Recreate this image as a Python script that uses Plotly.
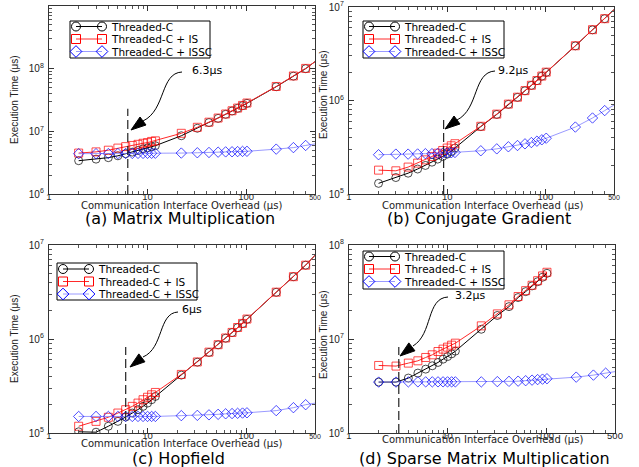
import numpy as np
import plotly.graph_objects as go

# ---------------- data ----------------
X = [2, 3, 4, 5, 6, 7, 8, 9, 10, 11, 12, 22, 32, 42, 52, 62, 72, 82, 92, 102, 202, 302, 402, 502]
X_D = [2, 3, 4, 5, 6, 7, 8, 9, 10, 11, 12, 22, 32, 42, 52, 62, 72, 82, 92, 102]

a_black = [3.4e6, 3.6e6, 3.8e6, 4.07e6, 4.4e6, 4.66e6, 4.95e6, 5.25e6, 5.45e6, 5.7e6, 5.9e6,
           8.5e6, 11.2e6, 13.8e6, 16.1e6, 18.7e6, 21.1e6, 23.3e6, 25.7e6, 28e6, 51.5e6, 76e6, 100e6, 130e6]
a_red = [4.5e6, 4.7e6, 5.0e6, 5.4e6, 5.7e6, 5.95e6, 6.2e6, 6.45e6, 6.6e6, 6.9e6, 7.05e6,
         9.3e6, 11.6e6, 14.0e6, 16.3e6, 18.9e6, 21.3e6, 23.5e6, 25.9e6, 28.3e6, 52e6, 76.5e6, 101e6, 130e6]
a_blue = [4.4e6, 4.4e6, 4.42e6, 4.42e6, 4.43e6, 4.44e6, 4.45e6, 4.45e6, 4.46e6, 4.46e6, 4.47e6,
          4.5e6, 4.55e6, 4.6e6, 4.65e6, 4.7e6, 4.72e6, 4.75e6, 4.78e6, 4.8e6, 5.2e6, 5.5e6, 5.95e6, 6.3e6]

b_black = [1.3e5, 1.5e5, 1.67e5, 1.85e5, 2.02e5, 2.19e5, 2.36e5, 2.52e5, 2.67e5, 2.85e5, 3.1e5,
           5.26e5, 7.1e5, 9.1e5, 1.08e6, 1.27e6, 1.45e6, 1.63e6, 1.82e6, 2.0e6, 3.84e6, 5.7e6, 7.5e6, 9.4e6]
b_red = [1.8e5, 1.77e5, 1.94e5, 2.14e5, 2.32e5, 2.52e5, 2.73e5, 2.92e5, 3.1e5, 3.28e5, 3.45e5,
         5.3e5, 7.15e5, 9.15e5, 1.085e6, 1.275e6, 1.455e6, 1.635e6, 1.825e6, 2.01e6, 3.85e6, 5.72e6, 7.5e6, 9.4e6]
b_blue = [2.63e5, 2.67e5, 2.67e5, 2.68e5, 2.7e5, 2.7e5, 2.72e5, 2.73e5, 2.75e5, 2.76e5, 2.78e5,
          2.9e5, 3.04e5, 3.2e5, 3.3e5, 3.44e5, 3.55e5, 3.67e5, 3.8e5, 3.95e5, 5.2e5, 6.5e5, 7.8e5, 8.96e5]

c_black = [1.03e5, 1.02e5, 1.18e5, 1.33e5, 1.48e5, 1.63e5, 1.77e5, 1.92e5, 2.08e5, 2.26e5, 2.45e5,
           4.13e5, 5.67e5, 7.2e5, 8.67e5, 1.02e6, 1.17e6, 1.32e6, 1.46e6, 1.62e6, 3.14e6, 4.6e6, 6.1e6, 7.8e6]
c_red = [1.18e5, 1.33e5, 1.47e5, 1.63e5, 1.77e5, 1.92e5, 2.08e5, 2.26e5, 2.4e5, 2.55e5, 2.7e5,
         4.2e5, 5.7e5, 7.25e5, 8.7e5, 1.025e6, 1.175e6, 1.325e6, 1.465e6, 1.63e6, 3.15e6, 4.6e6, 6.1e6, 7.8e6]
c_blue = [1.5e5, 1.5e5, 1.5e5, 1.5e5, 1.5e5, 1.5e5, 1.5e5, 1.5e5, 1.5e5, 1.5e5, 1.5e5,
          1.53e5, 1.54e5, 1.56e5, 1.58e5, 1.6e5, 1.61e5, 1.62e5, 1.63e5, 1.64e5, 1.73e5, 1.86e5, 2.0e5, 2.08e5]

d_black = [3.48e6, 3.48e6, 3.84e6, 4.34e6, 4.78e6, 5.19e6, 5.63e6, 6.1e6, 6.5e6, 6.95e6, 7.43e6,
           1.27e7, 1.78e7, 2.21e7, 2.76e7, 3.19e7, 3.67e7, 4.07e7, 4.54e7, 5.0e7]
d_red = [5.23e6, 5.15e6, 5.54e6, 5.86e6, 6.36e6, 6.79e6, 7.36e6, 7.8e6, 8.19e6, 8.6e6, 9.03e6,
         1.38e7, 1.85e7, 2.31e7, 2.83e7, 3.27e7, 3.73e7, 4.17e7, 4.69e7, 5.13e7]
d_blue = [3.48e6, 3.48e6, 3.5e6, 3.5e6, 3.5e6, 3.5e6, 3.5e6, 3.5e6, 3.5e6, 3.5e6, 3.5e6,
          3.5e6, 3.52e6, 3.54e6, 3.56e6, 3.6e6, 3.65e6, 3.7e6, 3.74e6, 3.78e6, 3.93e6, 4.13e6, 4.33e6, 4.5e6]

SERIES_NAMES = ["Threaded-C", "Threaded-C + IS", "Threaded-C + ISSC"]
CAPTIONS = ["(a) Matrix Multiplication", "(b) Conjugate Gradient",
            "(c) Hopfield", "(d) Sparse Matrix Multiplication"]
Y_DECADES = [(6, 9), (5, 7), (5, 7), (6, 8)]
MARK_X = [6.3, 9.2, 6.0, 3.2]
MARK_LABELS = ["6.3\u03bcs", "9.2\u03bcs", "6\u03bcs", "3.2\u03bcs"]
MARK_TOP = [2.3e7, 6.7e5, 8.2e5, 8.2e6]
X_TICKS = [1, 10, 100, 500]
X_TITLE = "Communication Interface Overhead (\u03bcs)"
Y_TITLE = "Execution Time (\u03bcs)"

panels = [
    (X, a_black, X, a_red, X, a_blue),
    (X, b_black, X, b_red, X, b_blue),
    (X, c_black, X, c_red, X, c_blue),
    (X_D, d_black, X_D, d_red, X, d_blue),
]

# ---------------- layout geometry (pixels) ----------------
W, H = 639, 467
PANEL_PX = [(49, 315, 6, 194), (349, 614, 7, 194), (49, 315, 245, 433), (349, 615, 245, 433)]
OV = dict(xref="x5", yref="y5")  # overlay pixel coordinate system

fig = go.Figure()

styles = [
    dict(color="black", symbol="circle-open", lc="black", lw=1.0, size=8),
    dict(color="#ff0000", symbol="square-open", lc="#ff2a2a", lw=1.0, size=8),
    dict(color="#0000ff", symbol="diamond-open", lc="#8080ff", lw=0.8, size=8),
]

for i, p in enumerate(panels):
    k = "" if i == 0 else str(i + 1)
    for s in range(3):
        xs, ys = p[2 * s], p[2 * s + 1]
        st = styles[s]
        sizes = [0 if xv > 500 else st["size"] for xv in xs]
        fig.add_trace(go.Scatter(
            x=xs, y=ys, mode="lines+markers", name=SERIES_NAMES[s],
            xaxis="x" + k, yaxis="y" + k, showlegend=False,
            line=dict(color=st["lc"], width=st["lw"]),
            marker=dict(symbol=st["symbol"], size=sizes, color=st["color"],
                        line=dict(width=1, color=st["color"])),
        ))
    lo = 10 ** Y_DECADES[i][0]
    fig.add_trace(go.Scatter(
        x=[MARK_X[i], MARK_X[i]], y=[lo, MARK_TOP[i]], mode="lines",
        xaxis="x" + k, yaxis="y" + k, showlegend=False,
        line=dict(color="#222", width=1.2, dash="9px,4px"),
    ))

# axes
minor_x = [m * 10 ** d for d in range(0, 3) for m in range(2, 10) if m * 10 ** d < 500]
for i in range(4):
    k = "" if i == 0 else str(i + 1)
    x0, x1, y0, y1 = PANEL_PX[i]
    lo, hi = Y_DECADES[i]
    xt = ["1", "10", "100",
          "500" if i == 3 else '<span style="font-size:7px">500</span>']
    fig.layout["xaxis" + k] = dict(
        type="log", range=[0, np.log10(500)], domain=[x0 / W, x1 / W],
        anchor="y" + k, tickmode="array", tickvals=X_TICKS, ticktext=xt,
        ticks="inside", ticklen=5, tickcolor="#333", mirror="ticks", automargin=False,
        showline=True, linecolor="#333", linewidth=1.3, showgrid=False, zeroline=False,
        tickfont=dict(size=9.5, color="#222"), ticklabelstandoff=-7,
        minor=dict(ticks="inside", ticklen=2.5, tickcolor="#555", tickvals=minor_x, showgrid=False),
    )
    minor_y = [m * 10 ** d for d in range(lo, hi) for m in range(2, 10)]
    fig.layout["yaxis" + k] = dict(
        type="log", range=[lo, hi], domain=[1 - y1 / H, 1 - y0 / H],
        anchor="x" + k, tickmode="array",
        tickvals=[10 ** d for d in range(lo, hi + 1)],
        ticktext=[f"10<sup>{d}</sup>" for d in range(lo, hi + 1)],
        ticks="inside", ticklen=5, tickcolor="#333", mirror="ticks", automargin=False,
        showline=True, linecolor="#333", linewidth=1.3, showgrid=False, zeroline=False,
        tickfont=dict(size=10, color="#222"), ticklabelstandoff=2,
        minor=dict(ticks="inside", ticklen=2.5, tickcolor="#555", tickvals=minor_y, showgrid=False),
    )

# overlay pixel axes for decorations
fig.layout["xaxis5"] = dict(domain=[0, 1], range=[0, W], visible=False, anchor="y5",
                            fixedrange=True, automargin=False)
fig.layout["yaxis5"] = dict(domain=[0, 1], range=[H, 0], visible=False, anchor="x5",
                            fixedrange=True, automargin=False)

annotations = []
shapes = []

# custom legends: box (left, top, right, bottom), row y's, sample x's, text x
LEGENDS = [
    dict(box=(70, 21, 210, 58), rows=(26.5, 39, 51.5), sx=(76, 102), tx=109),
    dict(box=(363, 21, 504, 58), rows=(26.5, 39, 51.5), sx=(369, 395), tx=402),
    dict(box=(57, 263, 197, 300), rows=(269, 281.5, 294), sx=(63, 89), tx=96),
    dict(box=(363, 251, 504, 289), rows=(256.5, 269, 281.5), sx=(369, 395), tx=402),
]
for lg in LEGENDS:
    l, t, r, b = lg["box"]
    shapes.append(dict(type="rect", x0=l, y0=t, x1=r, y1=b, layer="below",
                       fillcolor="white", line=dict(color="black", width=1), **OV))
    for s in range(3):
        st = styles[s]
        fig.add_trace(go.Scatter(
            x=list(lg["sx"]), y=[lg["rows"][s]] * 2, mode="lines+markers",
            xaxis="x5", yaxis="y5", showlegend=False, hoverinfo="skip",
            line=dict(color=st["lc"], width=st["lw"]),
            marker=dict(symbol=st["symbol"], size=st["size"] + 1, color=st["color"],
                        line=dict(width=1, color=st["color"])),
        ))
        annotations.append(dict(x=lg["tx"], y=lg["rows"][s], text=SERIES_NAMES[s],
                                xanchor="left", yanchor="middle", showarrow=False,
                                font=dict(family="DejaVu Sans", size=10.5, color="black"), **OV))

# captions, axis titles
CAP_POS = [(180, 218), (479, 218), (178, 458), (484, 458)]
XT_POS = [(181, 205), (482, 205), (181, 443), (482, 439)]
YT_POS = [(14, 100), (323, 95), (14, 339), (323, 335)]
for i in range(4):
    annotations.append(dict(x=CAP_POS[i][0], y=CAP_POS[i][1], text=CAPTIONS[i],
                            xanchor="center", yanchor="middle", showarrow=False,
                            font=dict(family="DejaVu Sans", size=16, color="black"), **OV))
    annotations.append(dict(x=XT_POS[i][0], y=XT_POS[i][1], text=X_TITLE,
                            xanchor="center", yanchor="middle", showarrow=False,
                            font=dict(family="DejaVu Sans", size=10, color="#222"), **OV))
    annotations.append(dict(x=YT_POS[i][0], y=YT_POS[i][1], text=Y_TITLE, textangle=-90,
                            xanchor="center", yanchor="middle", showarrow=False,
                            font=dict(family="Liberation Sans Narrow, Liberation Sans", size=10,
                                      color="#222"), **OV))

# curved arrows (pixel geometry)
ARROWS = [
    dict(text=(207, 70), start=(182, 72), c1=(160, 73), c2=(166, 110), end=(143, 121), tip=(131, 130)),
    dict(text=(513, 70), start=(495, 71), c1=(473, 72), c2=(479, 109), end=(457, 120), tip=(445, 129)),
    dict(text=(192, 309), start=(178, 312), c1=(158, 313), c2=(164, 348), end=(143, 357), tip=(130, 367)),
    dict(text=(470, 295), start=(448, 297), c1=(426, 298), c2=(433, 334), end=(413, 346), tip=(400, 356)),
]
for i, a in enumerate(ARROWS):
    annotations.append(dict(x=a["text"][0], y=a["text"][1], text=MARK_LABELS[i],
                            xanchor="center", yanchor="middle", showarrow=False,
                            font=dict(family="DejaVu Sans", size=11, color="black"), **OV))
    pts = [a[k] for k in ("start", "c1", "c2", "end")]
    path = "M {},{} C {},{} {},{} {},{}".format(*[v for p_ in pts for v in p_])
    shapes.append(dict(type="path", path=path, line=dict(color="black", width=1), **OV))
    tipx, tipy = a["tip"]
    ex, ey = a["end"]
    dx, dy = tipx - ex, tipy - ey
    n = (dx * dx + dy * dy) ** 0.5
    ux, uy = dx / n, dy / n
    L, hw = 15, 5
    bx, by = tipx - L * ux, tipy - L * uy
    tri = "M {},{} L {},{} L {},{} Z".format(tipx, tipy, bx - hw * uy, by + hw * ux,
                                              bx + hw * uy, by - hw * ux)
    shapes.append(dict(type="path", path=tri, fillcolor="black",
                       line=dict(color="black", width=1), **OV))

fig.update_layout(
    width=W, height=H, margin=dict(l=0, r=0, t=0, b=0, autoexpand=False),
    paper_bgcolor="white", plot_bgcolor="rgba(0,0,0,0)",
    font=dict(family="Liberation Sans", color="black"),
    annotations=annotations, shapes=shapes, showlegend=False,
)

fig.write_html("out.html", config={"displayModeBar": False},
               post_script="document.body.style.margin='0px';document.body.style.padding='0px';")
